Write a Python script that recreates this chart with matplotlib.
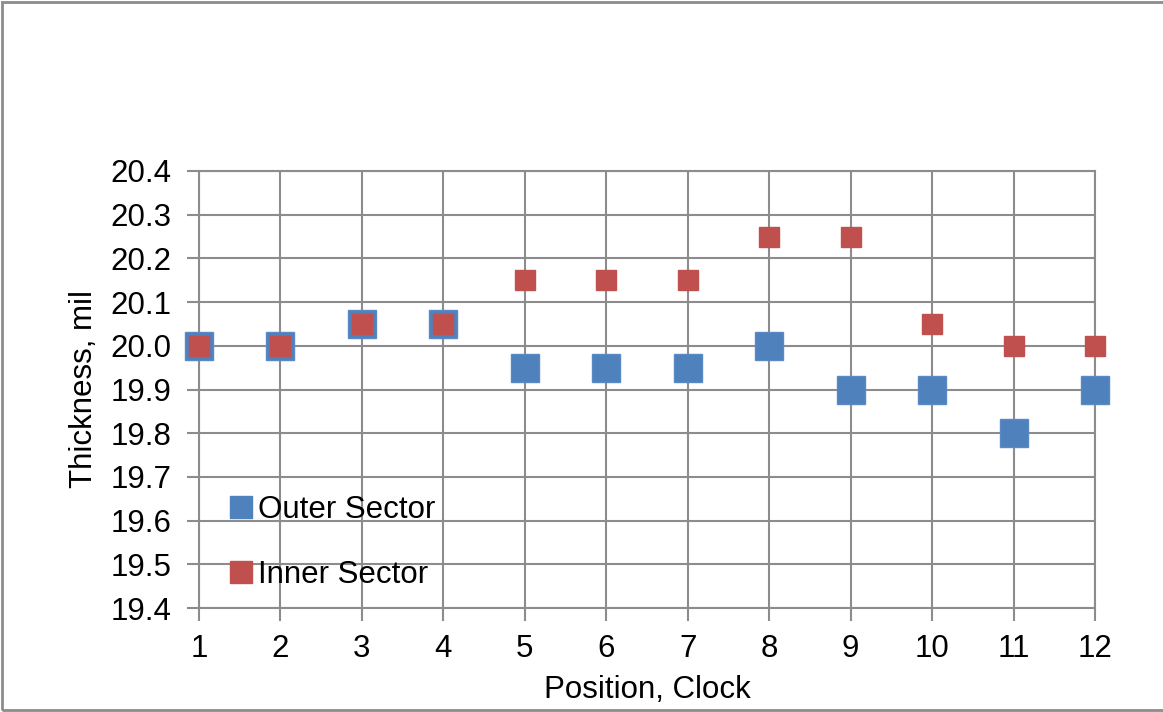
import matplotlib.pyplot as plt
from matplotlib.lines import Line2D

plt.rcParams['font.family'] = ['Liberation Sans', 'DejaVu Sans']

# clock positions and measured wall thickness (mil)
positions = [1, 2, 3, 4, 5, 6, 7, 8, 9, 10, 11, 12]
outer_sector = [20.0, 20.0, 20.05, 20.05, 19.95, 19.95, 19.95, 20.0, 19.9, 19.9, 19.8, 19.9]
inner_sector = [20.0, 20.0, 20.05, 20.05, 20.15, 20.15, 20.15, 20.25, 20.25, 20.05, 20.0, 20.0]

blue = "#4F81BD"
red = "#C0504D"
grey = "#8C8C8C"
fs = 22.5

fig = plt.figure(figsize=(11.63, 7.12), dpi=100)
W, H = 1163, 712
ax = fig.add_axes([199 / W, 1 - 608 / H, (1095 - 199) / W, (608 - 171) / H])

ax.plot(positions, outer_sector, ls="none", marker="s", markersize=20,
        markerfacecolor=blue, markeredgecolor="#5A8AC6", markeredgewidth=1,
        zorder=3, clip_on=False)
ax.plot(positions, inner_sector, ls="none", marker="s", markersize=14.5,
        markerfacecolor=red, markeredgecolor=red, markeredgewidth=1,
        zorder=4, clip_on=False)

ax.set_xlim(1, 12)
ax.set_ylim(19.4, 20.4)
ax.set_xticks(positions)
ax.set_yticks([19.4 + 0.1 * i for i in range(11)])
ax.set_yticklabels([f"{19.4 + 0.1 * i:.1f}" for i in range(11)])
ax.grid(True, color=grey, linewidth=1.5, zorder=1)
ax.set_axisbelow(True)
for s in ax.spines.values():
    s.set_color(grey)
    s.set_linewidth(1.5)
ax.tick_params(axis="both", direction="out", length=9, width=1.5, color=grey,
               labelsize=fs, labelcolor="black")
ax.tick_params(axis="y", pad=11)
ax.tick_params(axis="x", pad=10)

ax.set_xlabel("Position, Clock", fontsize=fs, labelpad=8)
ax.set_ylabel("Thickness, mil", fontsize=fs, labelpad=8)

handles = [
    Line2D([], [], ls="none", marker="s", markersize=15.5, color=blue),
    Line2D([], [], ls="none", marker="s", markersize=15.5, color=red),
]
fig.legend(handles, ["Outer Sector", "Inner Sector"], loc="upper left",
           bbox_to_anchor=(232 / W, 1 - 495 / H), frameon=False, fontsize=fs,
           handlelength=0.6, handletextpad=0.22, labelspacing=1.12,
           borderpad=0, borderaxespad=0)

# chart border
fig.patches.append(plt.Rectangle((2 / W, 2 / H), 1.2, 1 - 4 / H,
                                 transform=fig.transFigure, fill=False,
                                 edgecolor=grey, linewidth=2))

fig.savefig("out.png", dpi=100)
